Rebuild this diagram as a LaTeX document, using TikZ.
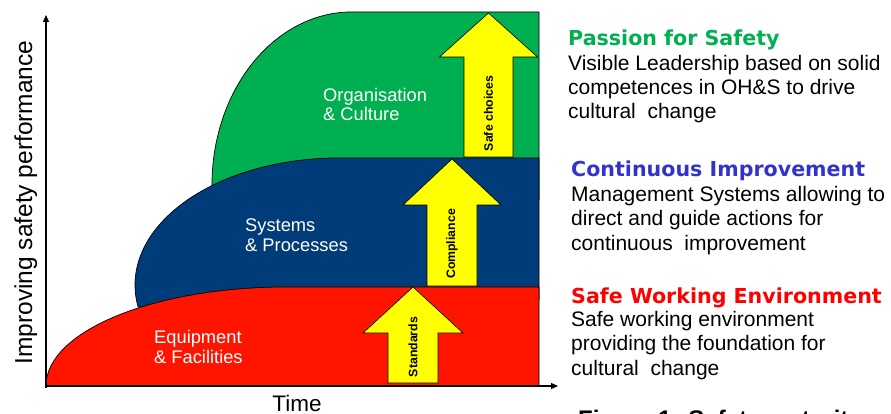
\documentclass[tikz,border=0pt]{standalone}
\usepackage{fontspec}
\setmainfont{Liberation Sans}
\newfontfamily\headfont{DejaVu Sans}
\usetikzlibrary{arrows.meta}
\definecolor{redreg}{RGB}{255,20,0}
\definecolor{bluereg}{RGB}{0,59,122}
\definecolor{greenreg}{RGB}{0,176,80}
\definecolor{yel}{RGB}{255,255,0}
\definecolor{headgreen}{RGB}{0,176,80}
\definecolor{headblue}{RGB}{51,51,204}
\definecolor{headred}{RGB}{255,0,0}
\begin{document}
\begin{tikzpicture}[x=1pt,y=-1pt,
 region/.style={draw=black,line width=0.7pt},
 blockarrow/.style={fill=yel,draw=black,line width=0.6pt,line join=miter},
 arrowtext/.style={rotate=90,font=\fontsize{12.3}{14}\selectfont\bfseries,inner sep=0pt},
 regiontext/.style={anchor=base west,text=white,font=\fontsize{18.3}{20}\selectfont,inner sep=0pt},
 head/.style={anchor=base west,font=\headfont\bfseries\fontsize{20.6}{24}\selectfont,inner sep=0pt},
 body/.style={anchor=base west,font=\fontsize{21}{24}\selectfont,inner sep=0pt},
 axis/.style={line width=1.2pt,-{Triangle[length=7pt,width=6pt]}}]

\useasboundingbox (0,0) rectangle (891,414);

% regions
\filldraw[region,fill=greenreg] (212.5,200) arc[start angle=185,end angle=90,x radius=140pt,y radius=173pt] -- (539,12) -- (539,200) -- cycle;
\filldraw[region,fill=bluereg] (138.1,307) arc[start angle=190,end angle=90,x radius=204pt,y radius=127pt] -- (539,158) -- (539,300) -- cycle;
\filldraw[region,fill=redreg] (46,386) arc[start angle=180,end angle=90,x radius=240pt,y radius=99pt] -- (539,287) -- (539,386) -- cycle;

% region labels
\node[regiontext] (org1) at (323,102) {Organisation};
\node[regiontext] (org2) at (323,121) {\& Culture};
\node[regiontext] (sys1) at (245,231) {Systems};
\node[regiontext] (sys2) at (245,251) {\& Processes};
\node[regiontext] (eq1) at (154,343) {Equipment};
\node[regiontext] (eq2) at (154,363) {\& Facilities};

% block arrows
\filldraw[blockarrow] (388,383) -- (388,333) -- (363,333) -- (413,287) -- (463,333) -- (438,333) -- (438,383) -- cycle;
\filldraw[blockarrow] (427,286) -- (427,205) -- (403,205) -- (452,159) -- (501,205) -- (477,205) -- (477,286) -- cycle;
\filldraw[blockarrow] (464,157) -- (464,57) -- (439.5,57) -- (488.5,13) -- (537.5,57) -- (513,57) -- (513,157) -- cycle;
\node[arrowtext] (std) at (413,347) {Standards};
\node[arrowtext] (comp) at (452,244) {Compliance};
\node[arrowtext] (safe) at (488.5,113.5) {Safe choices};

% axes
\coordinate (yb) at (46,388);
\coordinate (yt) at (46,15);
\coordinate (xl) at (45,386);
\coordinate (xr) at (558,386);
\draw[axis] (yb) -- (yt);
\draw[axis] (xl) -- (xr);
\node[rotate=90,anchor=base,font=\fontsize{24.5}{28}\selectfont,inner sep=0pt] (ylab) at (32,202.5) {Improving safety performance};
\node[anchor=base,font=\fontsize{22.5}{26}\selectfont,inner sep=0pt] (xlab) at (297,411) {Time};

% right-hand text
\node[head,text=headgreen] (h1) at (568,46) {Passion for Safety};
\node[body] (b11) at (568,71) {Visible Leadership based on solid};
\node[body] (b12) at (568,95) {competences in OH\&S to drive};
\node[body] (b13) at (568,119) {cultural\ \ change};

\node[head,text=headblue] (h2) at (571,177) {Continuous Improvement};
\node[body] (b21) at (571,201) {Management Systems allowing to};
\node[body] (b22) at (571,225.5) {direct and guide actions for};
\node[body] (b23) at (571,250) {continuous\ \ improvement};

\node[head,text=headred] (h3) at (571,303) {Safe Working Environment};
\node[body] (b31) at (571,326) {Safe working environment};
\node[body] (b32) at (571,350) {providing the foundation for};
\node[body] (b33) at (571,375) {cultural\ \ change};

\node[anchor=base west,font=\fontsize{24}{28}\selectfont\bfseries,inner sep=0pt] (cap) at (578,427.5) {Figure 1: Safety maturity};
\end{tikzpicture}
\end{document}
